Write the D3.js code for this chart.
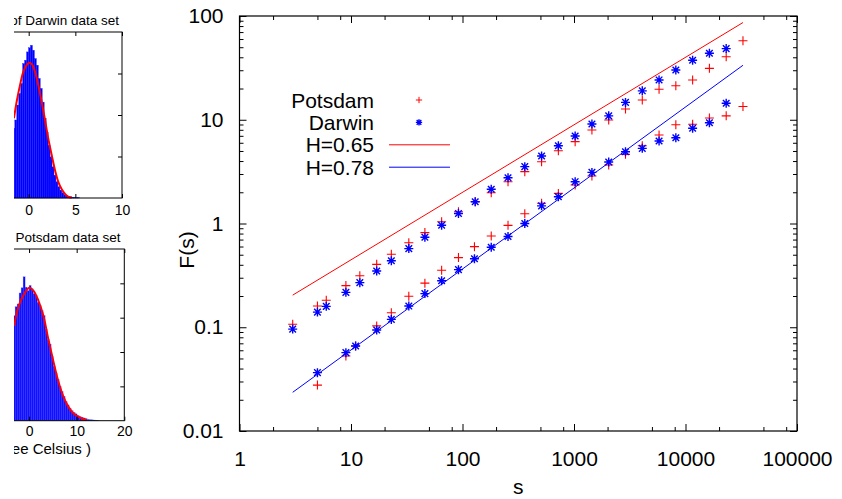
<!DOCTYPE html>
<html>
<head>
<meta charset="utf-8">
<script src="https://cdn.jsdelivr.net/npm/d3@7"></script>
<style>
  body { margin: 0; background: #fff; }
  svg { display: block; font-family: "Liberation Sans", Arial, sans-serif; }
</style>
</head>
<body>
<svg id="chart" width="842" height="499"></svg>
<script>
// ---- fluctuation function data (log-log panel) ----
var sUpper = [3, 5, 6, 9, 12, 17, 23, 33, 46, 65, 92, 130, 181, 256, 362, 512, 724, 1024, 1448, 2048, 2896, 4096, 5793, 8192, 11585, 16384, 23170, 32768];
var potsdamUpper = [0.107, 0.160, 0.182, 0.252, 0.314, 0.404, 0.506, 0.653, 0.817, 1.04, 1.30, 1.62, 1.98, 2.53, 3.16, 3.94, 5.03, 6.15, 7.96, 9.95, 12.7, 15.5, 19.7, 21.3, 24.2, 31.3, 40.5, 57.8];
var darwinUpper = [0.096, 0.140, 0.159, 0.217, 0.269, 0.349, 0.438, 0.573, 0.736, 0.962, 1.25, 1.62, 2.14, 2.76, 3.53, 4.47, 5.62, 6.97, 9.1, 10.9, 14.7, 19.0, 24.2, 30.2, 37.4, 43.7, 48.5, null];

var sLower = [5, 9, 11, 17, 23, 33, 46, 65, 92, 128, 181, 256, 362, 512, 724, 1024, 1448, 2048, 2896, 4096, 5793, 8192, 11585, 16384, 23170, 32768];
var potsdamLower = [0.0277, 0.0528, 0.066, 0.103, 0.138, 0.199, 0.266, 0.354, 0.469, 0.598, 0.758, 0.96, 1.24, 1.57, 1.95, 2.35, 2.87, 3.66, 4.64, 5.62, 7.13, 8.96, 9.04, 10.4, 10.9, 13.4];
var darwinLower = [0.0365, 0.0569, 0.066, 0.094, 0.119, 0.160, 0.211, 0.281, 0.359, 0.458, 0.59, 0.75, 1.0, 1.48, 1.81, 2.53, 3.11, 3.91, 4.92, 5.3, 6.24, 6.71, 8.27, 9.37, 14.4, null];

// fitted power laws, end points
var fitS = [3, 32768];
var fit065 = [0.204, 86.5];
var fit078 = [0.0236, 33.5];

var xTicks = [1, 10, 100, 1000, 10000, 100000];
var yTicks = [0.01, 0.1, 1, 10, 100];

// ---- histograms ----
var darwinStart = -1.7, darwinWidth = 0.21;
var darwinCounts = [1.68, 1.88, 2.24, 2.52, 2.76, 3.24, 3.32, 3.52, 3.62, 3.68, 3.56, 3.36, 3.2, 2.88, 2.64, 2.31, 1.92, 1.59, 1.27, 0.99, 0.75, 0.55, 0.39, 0.27, 0.19, 0.13, 0.08, 0.06, 0.04, 0.03, 0.02, 0.015, 0.01, 0.01];
var darwinFitX = [-1.58, -1.29, -0.93, -0.58, -0.21, 0.06, 0.35, 0.68, 1.03, 1.39, 1.75, 2.10, 2.47, 2.82, 3.17, 3.54, 3.89, 4.24, 4.61];
var darwinFitY = [1.92, 2.32, 2.72, 3.04, 3.21, 3.26, 3.22, 3.04, 2.72, 2.32, 1.88, 1.43, 1.03, 0.67, 0.39, 0.21, 0.10, 0.03, 0.01];

var potsdamStart = -3.35, potsdamWidth = 0.42;
var potsdamCounts = [3.06, 3.32, 3.4, 3.72, 3.87, 4.19, 3.89, 3.79, 3.94, 3.84, 3.7, 3.65, 3.45, 3.35, 3.2, 3.06, 2.67, 2.37, 2.23, 1.88, 1.59, 1.39, 1.2, 1.0, 0.85, 0.71, 0.56, 0.46, 0.36, 0.29, 0.24, 0.2, 0.15, 0.12, 0.1, 0.08, 0.06, 0.04, 0.03, 0.025, 0.02, 0.015, 0.01];
var potsdamFitX = [-3.14, -2.24, -1.19, 0.06, 0.9, 1.95, 3.0, 4.05, 5.09, 6.14, 7.19, 8.24, 9.29, 10.7, 12.1];
var potsdamFitY = [2.76, 3.31, 3.65, 3.87, 3.79, 3.5, 3.06, 2.37, 1.74, 1.15, 0.71, 0.41, 0.22, 0.09, 0.02];

var svg = d3.select('#chart');

// ================= main log-log plot =================
var L = 239.5, R = 797, T = 16, B = 431;
var x = d3.scaleLog().domain([1, 1e5]).range([L, R]);
var y = d3.scaleLog().domain([0.01, 100]).range([B, T]);

var main = svg.append('g');

function minorTicks(majors, steps) {
  var out = [];
  majors.slice(0, -1).forEach(function(m) {
    steps.forEach(function(k) { out.push(m * k); });
  });
  return out;
}
var xMinor = minorTicks(xTicks, [2, 5, 8]);
var yMinor = minorTicks(yTicks, [2, 3, 4, 5, 6, 7, 8, 9]);

function fmt(d) { return String(+d.toPrecision(6)); }

function styleAxis(g) {
  g.select('.domain').remove();
  g.selectAll('line').attr('stroke', '#000').attr('stroke-width', 1);
  g.selectAll('text').attr('fill', '#000').style('font-size', '21px');
}

// bottom
main.append('g').attr('transform', 'translate(0,' + B + ')')
  .call(d3.axisBottom(x).tickValues(xTicks).tickFormat(fmt).tickSize(-7).tickPadding(20))
  .call(styleAxis);
main.append('g').attr('transform', 'translate(0,' + B + ')')
  .call(d3.axisBottom(x).tickValues(xMinor).tickFormat('').tickSize(-4))
  .call(styleAxis);
// top mirror
main.append('g').attr('transform', 'translate(0,' + T + ')')
  .call(d3.axisTop(x).tickValues(xTicks).tickFormat('').tickSize(-7))
  .call(styleAxis);
main.append('g').attr('transform', 'translate(0,' + T + ')')
  .call(d3.axisTop(x).tickValues(xMinor).tickFormat('').tickSize(-4))
  .call(styleAxis);
// left
main.append('g').attr('transform', 'translate(' + L + ',0)')
  .call(d3.axisLeft(y).tickValues(yTicks).tickFormat(fmt).tickSize(-7).tickPadding(16))
  .call(styleAxis);
main.append('g').attr('transform', 'translate(' + L + ',0)')
  .call(d3.axisLeft(y).tickValues(yMinor).tickFormat('').tickSize(-4))
  .call(styleAxis);
// right mirror
main.append('g').attr('transform', 'translate(' + R + ',0)')
  .call(d3.axisRight(y).tickValues(yTicks).tickFormat('').tickSize(-7))
  .call(styleAxis);
main.append('g').attr('transform', 'translate(' + R + ',0)')
  .call(d3.axisRight(y).tickValues(yMinor).tickFormat('').tickSize(-4))
  .call(styleAxis);

main.append('rect')
  .attr('x', L).attr('y', T).attr('width', R - L).attr('height', B - T)
  .attr('fill', 'none').attr('stroke', '#000').attr('stroke-width', 1.2);

// axis titles
main.append('text').attr('x', (L + R) / 2).attr('y', 494)
  .attr('text-anchor', 'middle').style('font-size', '21px').text('s');
main.append('text').attr('transform', 'translate(194,250) rotate(-90)')
  .attr('text-anchor', 'middle').style('font-size', '21px').text('F(s)');

var plusPath = 'M-4.5,0H4.5M0,-4.5V4.5';
var starPath = 'M-4.5,0H4.5M0,-4.5V4.5M-3.3,-3.3L3.3,3.3M-3.3,3.3L3.3,-3.3';

function pairs(sArr, fArr) {
  return sArr.map(function(s, i) { return [s, fArr[i]]; })
    .filter(function(d) { return d[1] != null; });
}

function drawMarks(data, path, color, w) {
  main.append('g').selectAll('path').data(data).enter().append('path')
    .attr('transform', function(d) { return 'translate(' + x(d[0]) + ',' + y(d[1]) + ')'; })
    .attr('d', path)
    .attr('fill', 'none').attr('stroke', color).attr('stroke-width', w);
}

drawMarks(pairs(sUpper, potsdamUpper), plusPath, '#ff0000', 1.1);
drawMarks(pairs(sLower, potsdamLower), plusPath, '#ff0000', 1.1);
drawMarks(pairs(sUpper, darwinUpper), starPath, '#0000ff', 1.4);
drawMarks(pairs(sLower, darwinLower), starPath, '#0000ff', 1.4);

var fitLine = d3.line().x(function(d) { return x(d[0]); }).y(function(d) { return y(d[1]); });
main.append('path').datum(pairs(fitS, fit065)).attr('d', fitLine)
  .attr('fill', 'none').attr('stroke', '#ff0000').attr('stroke-width', 1);
main.append('path').datum(pairs(fitS, fit078)).attr('d', fitLine)
  .attr('fill', 'none').attr('stroke', '#0000ff').attr('stroke-width', 1);

// legend
var legend = [
  { label: 'Potsdam', type: 'plus', color: '#ff0000' },
  { label: 'Darwin', type: 'star', color: '#0000ff' },
  { label: 'H=0.65', type: 'line', color: '#ff0000' },
  { label: 'H=0.78', type: 'line', color: '#0000ff' }
];
var lg = main.append('g').selectAll('g').data(legend).enter().append('g')
  .attr('transform', function(d, i) { return 'translate(0,' + (100 + i * 22.4) + ')'; });
lg.append('text').attr('x', 374).attr('y', 7.5)
  .attr('text-anchor', 'end').style('font-size', '21px')
  .text(function(d) { return d.label; });
lg.filter(function(d) { return d.type === 'line'; }).append('line')
  .attr('x1', 389).attr('x2', 450).attr('y1', 0).attr('y2', 0)
  .attr('stroke', function(d) { return d.color; }).attr('stroke-width', 1);
lg.filter(function(d) { return d.type !== 'line'; }).append('path')
  .attr('transform', 'translate(419,0) scale(0.7)')
  .attr('d', function(d) { return d.type === 'plus' ? plusPath : starPath; })
  .attr('fill', 'none').attr('stroke', function(d) { return d.color; })
  .attr('stroke-width', function(d) { return d.type === 'plus' ? 1.4 : 2; });

// ================= histograms (left, cropped) =================
svg.append('clipPath').attr('id', 'leftClip')
  .append('rect').attr('x', 14).attr('y', 0).attr('width', 160).attr('height', 499);

var left = svg.append('g').attr('clip-path', 'url(#leftClip)');

function histogram(opts) {
  var hx = d3.scaleLinear().domain(opts.xDomain).range(opts.xRange);
  var hy = d3.scaleLinear().domain(opts.yDomain).range([opts.bottom, opts.top]);
  var g = left.append('g');

  var bins = opts.counts.map(function(c, i) {
    return { x0: opts.start + i * opts.width, x1: opts.start + (i + 1) * opts.width, c: c };
  });
  g.selectAll('rect.bar').data(bins).enter().append('rect')
    .attr('class', 'bar')
    .attr('x', function(d) { return hx(d.x0); })
    .attr('width', function(d) { return hx(d.x1) - hx(d.x0); })
    .attr('y', function(d) { return hy(d.c); })
    .attr('height', function(d) { return hy(0) - hy(d.c); })
    .attr('fill', '#0000ff')
    .attr('stroke', opts.barStroke).attr('stroke-width', 0.35);

  var curve = d3.line().curve(d3.curveCatmullRom)
    .x(function(d) { return hx(d[0]); }).y(function(d) { return hy(d[1]); });
  g.append('path').datum(opts.fitX.map(function(v, i) { return [v, opts.fitY[i]]; }))
    .attr('d', curve).attr('fill', 'none').attr('stroke', '#ff0000').attr('stroke-width', 2);

  var x0 = opts.xRange[0], x1 = opts.xRange[1];
  // frame
  g.append('rect').attr('x', x0).attr('y', opts.top).attr('width', x1 - x0)
    .attr('height', opts.bottom - opts.top)
    .attr('fill', 'none').attr('stroke', '#000').attr('stroke-width', 1);

  // ticks inward
  g.append('g').attr('transform', 'translate(0,' + opts.bottom + ')')
    .call(d3.axisBottom(hx).tickValues(opts.xTicks).tickSize(-4).tickPadding(opts.labelPad))
    .call(function(a) {
      a.select('.domain').remove();
      a.selectAll('text').style('font-size', '14px').attr('fill', '#000');
    });
  g.append('g').attr('transform', 'translate(0,' + opts.top + ')')
    .call(d3.axisTop(hx).tickValues(opts.xTicks).tickFormat('').tickSize(-4))
    .call(function(a) { a.select('.domain').remove(); });
  g.append('g').attr('transform', 'translate(' + x1 + ',0)')
    .call(d3.axisRight(hy).tickValues(opts.yTicks).tickFormat('').tickSize(-4))
    .call(function(a) { a.select('.domain').remove(); });

  g.append('text').attr('x', opts.titleX).attr('y', opts.top - 7)
    .attr('text-anchor', opts.titleAnchor).style('font-size', '13.5px').text(opts.title);
  if (opts.xlabel) {
    g.append('text').attr('x', opts.xlabelX).attr('y', opts.bottom + 33)
      .attr('text-anchor', 'end').style('font-size', '15px').text(opts.xlabel);
  }
}

histogram({
  xDomain: [-3, 10], xRange: [0.7, 122], yDomain: [0, 4], top: 32, bottom: 198,
  start: darwinStart, width: darwinWidth, counts: darwinCounts,
  fitX: darwinFitX, fitY: darwinFitY, barStroke: '#1a1aff',
  xTicks: [0, 5, 10], yTicks: [1, 2, 3], labelPad: 7,
  title: 'Histogram of Darwin data set', titleX: 119, titleAnchor: 'end'
});

histogram({
  xDomain: [-5, 20], xRange: [5.25, 124.3], yDomain: [0, 5], top: 249, bottom: 420.7,
  start: potsdamStart, width: potsdamWidth, counts: potsdamCounts,
  fitX: potsdamFitX, fitY: potsdamFitY, barStroke: '#7f7fff',
  xTicks: [0, 10, 20], yTicks: [1, 2, 3, 4], labelPad: 5,
  title: 'Potsdam data set', titleX: 68, titleAnchor: 'middle',
  xlabel: 'Temperature ( degree Celsius )', xlabelX: 91
});
</script>
</body>
</html>
